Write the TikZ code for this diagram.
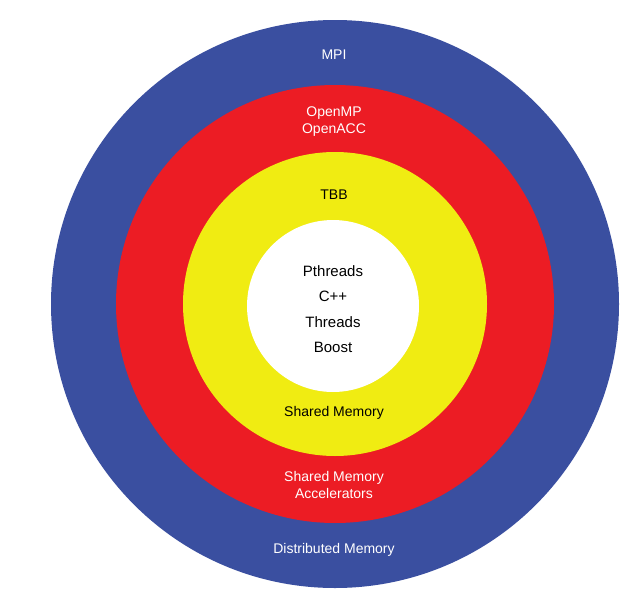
\documentclass[tikz,border=0pt]{standalone}
\usepackage{fontspec}
\setmainfont{Liberation Sans}
\definecolor{cblue}{HTML}{3A4FA0}
\definecolor{cred}{HTML}{EC1C24}
\definecolor{cyel}{HTML}{F0EC12}
\begin{document}
\begin{tikzpicture}[x=1pt,y=-1pt,
  lbl/.style={font=\fontsize{14}{17}\selectfont,align=center,inner sep=0pt},
  ring/.style={draw=none}]
\useasboundingbox[fill=white] (0,0) rectangle (640,605);
\fill[cblue] (335,304) circle (284);
\fill[cred] (335,304) circle (219);
\fill[cyel] (335,304) circle (152);
\fill[white] (333,306) circle (86);
\node[lbl,text=white] (mpi) at (334,55) {MPI};
\node[lbl,text=white] (omp) at (334,122) {OpenMP\\OpenACC};
\node[lbl] (tbb) at (334,195) {TBB};
\node[lbl,font=\fontsize{15}{25.5}\selectfont] (pt) at (333,309) {Pthreads\\C++\\Threads\\Boost};
\node[lbl] (sm) at (334,413) {Shared Memory};
\node[lbl,text=white] (sma) at (334,485) {Shared Memory\\Accelerators};
\node[lbl,text=white] (dm) at (334,550) {Distributed Memory};
\end{tikzpicture}
\end{document}
